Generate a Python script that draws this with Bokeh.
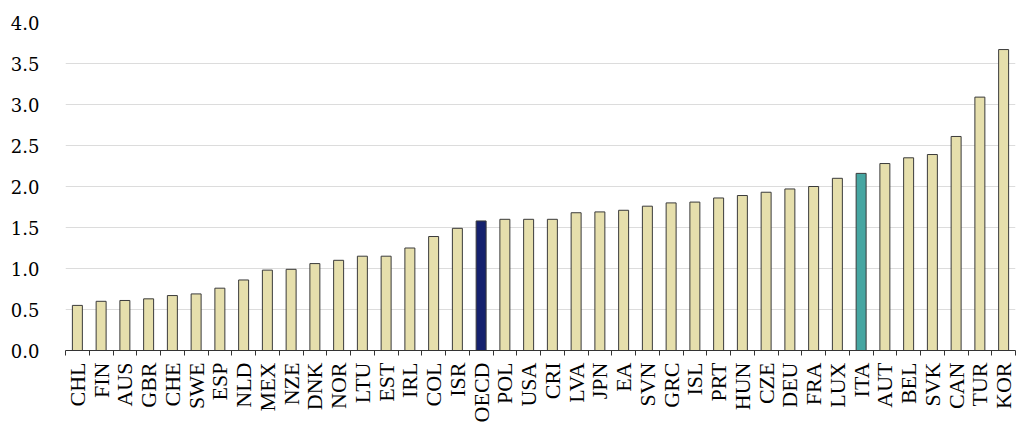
from bokeh.plotting import figure
from bokeh.models import ColumnDataSource, FixedTicker, Range1d
from bokeh.embed import file_html
from bokeh.resources import INLINE

countries = ["CHL", "FIN", "AUS", "GBR", "CHE", "SWE", "ESP", "NLD", "MEX", "NZE",
             "DNK", "NOR", "LTU", "EST", "IRL", "COL", "ISR", "OECD", "POL", "USA",
             "CRI", "LVA", "JPN", "EA", "SVN", "GRC", "ISL", "PRT", "HUN", "CZE",
             "DEU", "FRA", "LUX", "ITA", "AUT", "BEL", "SVK", "CAN", "TUR", "KOR"]
values = [0.55, 0.60, 0.61, 0.63, 0.67, 0.69, 0.76, 0.86, 0.98, 0.99,
          1.06, 1.10, 1.15, 1.15, 1.25, 1.39, 1.49, 1.58, 1.60, 1.60,
          1.60, 1.68, 1.69, 1.71, 1.76, 1.80, 1.81, 1.86, 1.89, 1.93,
          1.97, 2.00, 2.10, 2.16, 2.28, 2.35, 2.39, 2.61, 3.09, 3.67]
y_ticks = [0.0, 0.5, 1.0, 1.5, 2.0, 2.5, 3.0, 3.5, 4.0]

BASE = "#E6DFAC"
OECD_C = "#15216E"
ITA_C = "#46A6A2"

n = len(countries)
colors = [OECD_C if c == "OECD" else ITA_C if c == "ITA" else BASE for c in countries]
xs = list(range(n))

src = ColumnDataSource(dict(x=xs, top=values, color=colors, name=countries))

p = figure(width=1017, height=425, output_backend="svg", toolbar_location=None,
           x_range=Range1d(-0.5, n - 0.5), y_range=Range1d(0, 4.0),
           min_border_left=65, min_border_right=2, min_border_top=22, min_border_bottom=73)
p.outline_line_color = None
p.background_fill_color = "white"
p.border_fill_color = "white"

p.vbar(x="x", top="top", width=0.42, bottom=0, source=src, fill_color="color",
       line_color="#3a3a3a", line_width=1)

# x axis: labels at centres, tick marks at category boundaries
p.xaxis.ticker = FixedTicker(ticks=xs, minor_ticks=[i - 0.5 for i in range(n + 1)])
p.xaxis.major_label_overrides = {i: c for i, c in enumerate(countries)}
p.xaxis.major_tick_line_color = None
p.xaxis.minor_tick_line_color = "#333333"
p.xaxis.minor_tick_out = 5
p.xaxis.minor_tick_in = 0
p.xaxis.axis_line_color = "#333333"
p.xaxis.major_label_orientation = 1.5708
p.xaxis.major_label_text_font = "Liberation Serif"
p.xaxis.major_label_text_font_size = "22px"
p.xaxis.major_label_text_color = "#000000"
p.xaxis.major_label_standoff = 6
p.xgrid.grid_line_color = None

p.yaxis.ticker = FixedTicker(ticks=y_ticks)
p.yaxis.major_label_overrides = {t: f"{t:.1f}" for t in y_ticks}
p.yaxis.axis_line_color = None
p.yaxis.major_tick_line_color = None
p.yaxis.minor_tick_line_color = None
p.yaxis.major_label_text_font = "DejaVu Serif"
p.yaxis.major_label_text_font_size = "18px"
p.yaxis.major_label_text_color = "#000000"
p.yaxis.major_label_standoff = 20
p.ygrid.grid_line_color = "#dcdcdc"
p.ygrid.grid_line_width = 1

open("out.html", "w").write(file_html(p, INLINE))
